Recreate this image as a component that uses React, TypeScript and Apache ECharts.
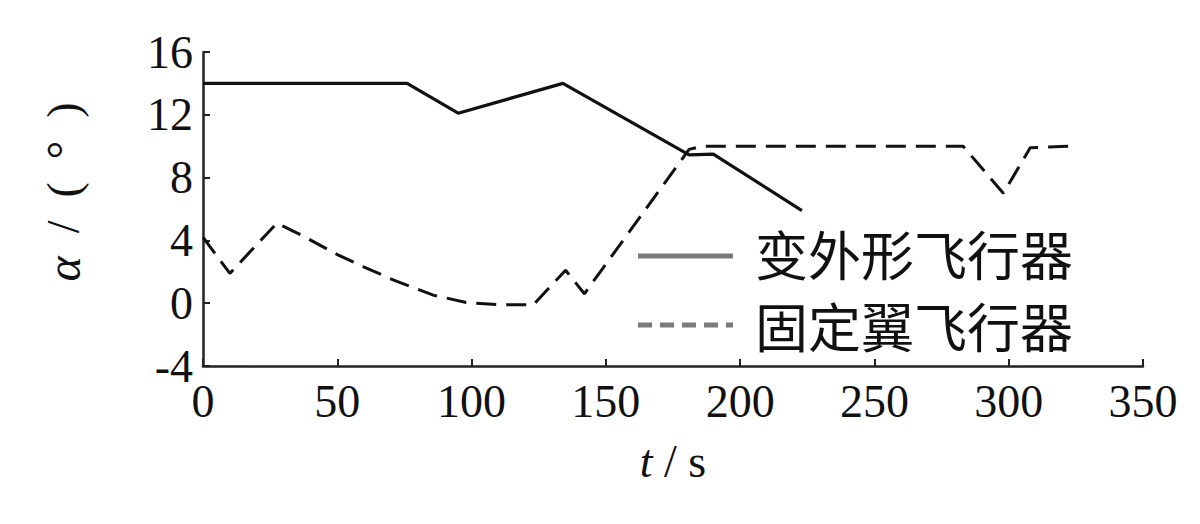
import React, { useEffect, useRef } from "react";
import * as echarts from "echarts";

const morphingT = [0, 76, 95, 134, 181, 190, 223];
const morphingAlpha = [14.0, 14.0, 12.1, 14.0, 9.45, 9.5, 5.9];

const fixedT = [0, 10, 27.5, 37, 50, 60, 72, 86, 98, 110, 123, 135, 142, 181, 186, 283, 298, 308, 323];
const fixedAlpha = [4.2, 1.9, 5.1, 4.3, 3.1, 2.3, 1.4, 0.5, 0.05, -0.1, -0.1, 2.1, 0.6, 9.8, 10.0, 10.0, 7.0, 9.9, 10.0];

const seriesNames = ["变外形飞行器", "固定翼飞行器"];
const xTicks = { min: 0, max: 350, interval: 50 };
const yTicks = { min: -4, max: 16, interval: 4 };

const serif = "'Liberation Serif', 'DejaVu Serif', serif";
const cjk = "'Noto Sans CJK SC', sans-serif";

export default function App() {
  const ref = useRef<HTMLDivElement>(null);
  useEffect(() => {
    if (!ref.current) return;
    const chart = echarts.init(ref.current, undefined, { renderer: "svg" });
    const axisCommon = {
      axisLine: { show: true, onZero: false, lineStyle: { color: "#222", width: 2.5 } },
      axisTick: { show: true, inside: true, length: 7, lineStyle: { color: "#222", width: 2 } },
      splitLine: { show: false },
      axisLabel: { color: "#111", fontFamily: serif, fontSize: 46 },
    };
    chart.setOption({
      animation: false,
      backgroundColor: "#fff",
      grid: { left: 203, right: 57, top: 52, bottom: 158, containLabel: false },
      xAxis: {
        type: "value",
        ...xTicks,
        ...axisCommon,
        axisLabel: { ...axisCommon.axisLabel, margin: 12 },
        name: "{i|t}{n| / s}",
        nameLocation: "middle",
        nameGap: 72,
        nameTextStyle: {
          rich: {
            i: { fontFamily: serif, fontStyle: "italic", fontSize: 46, color: "#111" },
            n: { fontFamily: serif, fontSize: 46, color: "#111" },
          },
        },
      },
      yAxis: {
        type: "value",
        ...yTicks,
        ...axisCommon,
        axisLabel: { ...axisCommon.axisLabel, margin: 10 },
        name: "{i|α}{n|\u2002/\u2002(\u2002°\u2002)}",
        nameLocation: "middle",
        nameGap: 116,
        nameTextStyle: {
          padding: [0, 0, 0, 34],
          rich: {
            i: { fontFamily: serif, fontStyle: "italic", fontSize: 48, color: "#111" },
            n: { fontFamily: serif, fontSize: 46, color: "#111" },
          },
        },
      },
      series: [
        {
          name: seriesNames[0],
          type: "line",
          data: morphingT.map((t, i) => [t, morphingAlpha[i]]),
          showSymbol: false,
          lineStyle: { color: "#111", width: 3.2, type: "solid" },
        },
        {
          name: seriesNames[1],
          type: "line",
          data: fixedT.map((t, i) => [t, fixedAlpha[i]]),
          showSymbol: false,
          lineStyle: { color: "#111", width: 3, type: [20, 10] },
        },
      ],
      graphic: [
        { type: "line", shape: { x1: 638, y1: 256, x2: 733, y2: 256 }, style: { stroke: "#7a7a7a", lineWidth: 5 } },
        { type: "line", shape: { x1: 638, y1: 325, x2: 733, y2: 325 }, style: { stroke: "#7a7a7a", lineWidth: 5, lineDash: [14, 8] } },
        { type: "text", x: 755, y: 253, style: { text: seriesNames[0], font: `53px ${cjk}`, fill: "#111", verticalAlign: "middle", align: "left" } },
        { type: "text", x: 755, y: 325, style: { text: seriesNames[1], font: `53px ${cjk}`, fill: "#111", verticalAlign: "middle", align: "left" } },
      ],
    });
    return () => chart.dispose();
  }, []);
  return <div ref={ref} style={{ width: 1200, height: 524, margin: -8 }} />;
}
